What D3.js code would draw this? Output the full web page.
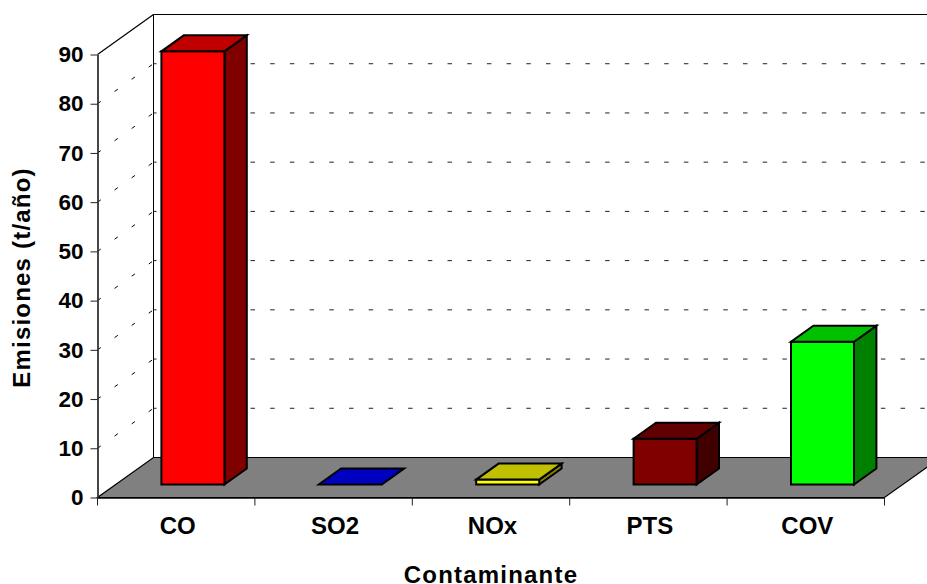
<!DOCTYPE html>
<html lang="es">
<head>
    <meta charset="UTF-8">
    <title>Emisiones</title>
    <style>
        html, body { margin: 0; padding: 0; background: #fff; }
        svg { display: block; }
        text { font-family: "Liberation Sans", Arial, sans-serif; font-weight: bold; fill: #000; }
    </style>
</head>
<body>
<svg></svg>
<script src="https://cdnjs.cloudflare.com/ajax/libs/d3/7.8.5/d3.min.js"></script>
<script>
    var categories = ["CO", "SO2", "NOx", "PTS", "COV"];
    var values = [88, 0, 1, 9.3, 29];
    var frontColors = ["#ff0000", "#0000ff", "#ffff00", "#800000", "#00ff00"];
    var topColors = ["#c00000", "#0000c0", "#c0c000", "#600000", "#00c000"];
    var sideColors = ["#800000", "#000080", "#808000", "#400000", "#008000"];
    var yTicks = [0, 10, 20, 30, 40, 50, 60, 70, 80, 90];

    var width = 927, height = 584;
    var depthX = 56, depthY = 40;   //wall offset of the 3d box
    var barWidth = 63, barOffset = -1.5;
    var barFront = 0.325, barBack = 0.725;   //bar position inside the depth

    var svg = d3.select("svg").attr("width", width).attr("height", height);

    var x = d3.scaleBand().domain(categories).range([97.5, 884.5]);
    var y = d3.scaleLinear().domain([0, 90]).range([497.5, 54.5]);

    //screen position of a floor point: px along x, value, depth 0..1
    function pt(px, v, d) {
        return [px + d * depthX, y(v) - d * depthY];
    }
    function poly(points, fill, sw) {
        svg.append("polygon")
            .attr("points", points.map(function (p) { return p.join(","); }).join(" "))
            .attr("fill", fill)
            .attr("stroke", "#000")
            .attr("stroke-width", sw)
            .attr("stroke-linejoin", "miter");
    }

    var x0 = x.range()[0], x1 = x.range()[1];

    //back wall and side wall
    svg.append("line")
        .attr("x1", pt(x0, 0, 1)[0]).attr("y1", pt(x0, 0, 1)[1])
        .attr("x2", pt(x0, 90, 1)[0]).attr("y2", pt(x0, 90, 1)[1])
        .attr("stroke", "#000");
    svg.append("line")
        .attr("x1", pt(x0, 90, 0)[0]).attr("y1", pt(x0, 90, 0)[1])
        .attr("x2", pt(x0, 90, 1)[0]).attr("y2", pt(x0, 90, 1)[1])
        .attr("stroke", "#000").attr("stroke-width", 1.2);

    //gridlines
    svg.selectAll(".gridBack")
        .data(yTicks.slice(1))
        .enter()
        .append("line")
        .attr("x1", pt(x0, 0, 1)[0])
        .attr("x2", pt(x1, 0, 1)[0])
        .attr("y1", function (d) { return pt(x0, d, 1)[1]; })
        .attr("y2", function (d) { return pt(x0, d, 1)[1]; })
        .attr("stroke", "#222")
        .attr("stroke-dasharray", "4.5 15.2")
        .attr("stroke-dashoffset", 1.5);
    svg.append("line")
        .attr("x1", pt(x0, 90, 1)[0]).attr("x2", width)
        .attr("y1", pt(x0, 90, 1)[1]).attr("y2", pt(x0, 90, 1)[1])
        .attr("stroke", "#000").attr("stroke-width", 1);
    svg.selectAll(".gridSide")
        .data(yTicks.slice(1, -1))
        .enter()
        .append("line")
        .attr("x1", pt(x0, 0, 0)[0])
        .attr("x2", pt(x0, 0, 1)[0])
        .attr("y1", function (d) { return pt(x0, d, 0)[1]; })
        .attr("y2", function (d) { return pt(x0, d, 1)[1]; })
        .attr("stroke", "#000")
        .attr("stroke-dasharray", "4 17");

    //floor
    poly([pt(x0, 0, 0), pt(x1, 0, 0), pt(x1, 0, 1), pt(x0, 0, 1)], "#808080", 1.2);

    //bars
    categories.forEach(function (c, i) {
        var left = x(c) + (x.bandwidth() - barWidth) / 2 + barOffset;
        var right = left + barWidth;
        var v = values[i];
        if (v > 0) {
            poly([pt(right, 0, barFront), pt(right, 0, barBack), pt(right, v, barBack), pt(right, v, barFront)], sideColors[i], 2);
            poly([pt(left, 0, barFront), pt(right, 0, barFront), pt(right, v, barFront), pt(left, v, barFront)], frontColors[i], 2);
        }
        poly([pt(left, v, barFront), pt(right, v, barFront), pt(right, v, barBack), pt(left, v, barBack)], topColors[i], 2);
    });

    //axes
    var yAxis = d3.axisLeft(y).tickValues(yTicks).tickSize(7).tickPadding(7).tickSizeOuter(0);
    var gy = svg.append("g").attr("transform", "translate(" + x0 + ",0)").call(yAxis);
    gy.select(".domain").attr("stroke-width", 1.8).attr("stroke", "#333");
    gy.selectAll("text").attr("font-size", 22.5);
    gy.selectAll("line").attr("stroke", "#222");

    var xAxis = d3.axisBottom(x).tickSize(0).tickPadding(19.5);
    var gx = svg.append("g").attr("transform", "translate(0," + y(0) + ")").call(xAxis);
    gx.select(".domain").attr("stroke-width", 1.5);
    gx.selectAll("text").attr("font-size", 24).attr("dx", 1.5);

    //category separators
    var bounds = categories.map(function (c) { return x(c); }).concat([x1]);
    svg.selectAll(".sep")
        .data(bounds)
        .enter()
        .append("line")
        .attr("x1", function (d) { return d; })
        .attr("x2", function (d) { return d; })
        .attr("y1", y(0))
        .attr("y2", y(0) + 8)
        .attr("stroke", "#222");

    //axis titles
    svg.append("text")
        .attr("x", 491).attr("y", 583)
        .attr("text-anchor", "middle")
        .attr("font-size", 24)
        .attr("letter-spacing", 1.2)
        .text("Contaminante");
    svg.append("text")
        .attr("transform", "translate(30,277.5) rotate(-90)")
        .attr("text-anchor", "middle")
        .attr("font-size", 24)
        .attr("letter-spacing", 1.2)
        .text("Emisiones (t/año)");
</script>
</body>
</html>
